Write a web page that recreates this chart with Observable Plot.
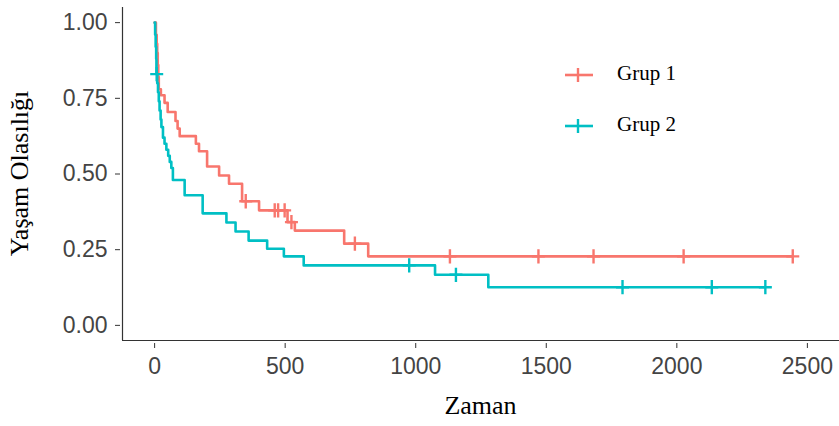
<!DOCTYPE html>
<html>
<head>
<meta charset="utf-8">
<script src="https://cdn.jsdelivr.net/npm/d3@7"></script>
<script src="https://cdn.jsdelivr.net/npm/@observablehq/plot@0.6"></script>
<style>
  html, body { margin: 0; padding: 0; background: #fff; }
  #chart svg { display: block; }
</style>
</head>
<body>
<div id="chart"></div>
<script>
// Kaplan–Meier survival estimates: [time, survival after the event]
const groups = ["Grup 1", "Grup 2"];
const colors = ["#F8766D", "#00BFC4"];

const grup1Steps = [
  [0, 1.0], [5, 0.96], [8, 0.93], [10, 0.90], [12, 0.86], [14, 0.82], [16, 0.78],
  [24, 0.76], [38, 0.735], [50, 0.705], [80, 0.675], [88, 0.65], [96, 0.625],
  [158, 0.60], [170, 0.575], [201, 0.525], [247, 0.495], [285, 0.468],
  [335, 0.41], [400, 0.38], [509, 0.341], [537, 0.313], [726, 0.27], [818, 0.228],
  [2444, 0.228]
];
const grup1Censored = [349, 460, 473, 498, 524, 767, 1131, 1470, 1681, 2026, 2444];

const grup2Steps = [
  [0, 1.0], [2, 0.96], [4, 0.92], [6, 0.88], [7, 0.83], [10, 0.80], [13, 0.77],
  [16, 0.74], [19, 0.71], [23, 0.68], [26, 0.655], [32, 0.62], [38, 0.60],
  [45, 0.58], [52, 0.56], [58, 0.54], [64, 0.52], [70, 0.48], [115, 0.43],
  [184, 0.37], [275, 0.34], [310, 0.31], [360, 0.28], [431, 0.253], [495, 0.228],
  [571, 0.198], [1074, 0.167], [1278, 0.126], [2339, 0.126]
];
const grup2Censored = [8, 975, 1154, 1792, 2134, 2339];

const xTicks = [0, 500, 1000, 1500, 2000, 2500];
const yTicks = [0, 0.25, 0.5, 0.75, 1];
const xDomain = [-123, 2623];
const yDomain = [-0.05, 1.05];

// Survival value at time t (right-continuous step function)
function survivalAt(steps, t) {
  let s = steps[0][1];
  for (const [time, value] of steps) if (time <= t) s = value;
  return s;
}

const curves = [
  ...grup1Steps.map(([time, surv]) => ({group: groups[0], time, surv})),
  ...grup2Steps.map(([time, surv]) => ({group: groups[1], time, surv}))
];
const censors = [
  ...grup1Censored.map(time => ({group: groups[0], time, surv: survivalAt(grup1Steps, time)})),
  ...grup2Censored.map(time => ({group: groups[1], time, surv: survivalAt(grup2Steps, time)}))
];

// Thin "+" censoring symbol
const plusSymbol = {
  draw(context, size) {
    const r = Math.sqrt(size / Math.PI);
    context.moveTo(-r, 0); context.lineTo(r, 0);
    context.moveTo(0, -r * 1.1); context.lineTo(0, r * 1.1);
  }
};

const color = {domain: groups, range: colors};

const plot = Plot.plot({
  width: 839,
  height: 426,
  marginLeft: 122,
  marginRight: 0,
  marginTop: 7,
  marginBottom: 86,
  style: {fontFamily: "'Liberation Sans', Arial, sans-serif", background: "#fff"},
  x: {domain: xDomain, ticks: xTicks, label: null},
  y: {domain: yDomain, ticks: yTicks, label: null},
  color,
  marks: [
    Plot.ruleX([xDomain[0]], {stroke: "#333", strokeWidth: 1.2}),
    Plot.ruleY([yDomain[0]], {stroke: "#333", strokeWidth: 1.2}),
    Plot.axisX({ticks: xTicks, tickSize: 5, tickPadding: 9, dy: 3, fontSize: 23, fill: "#444",
      stroke: "#333", tickFormat: d3.format("d"), label: null}),
    Plot.axisY({ticks: yTicks, tickSize: 5, tickPadding: 8, dx: -2, fontSize: 23, fill: "#444",
      stroke: "#333", tickFormat: d3.format(".2f"), label: null}),
    Plot.line(curves.filter(d => d.group === groups[0]), {x: "time", y: "surv", stroke: "group",
      curve: "step-after", strokeWidth: 2.6}),
    Plot.line(curves.filter(d => d.group === groups[1]), {x: "time", y: "surv", stroke: "group",
      curve: "step-after", strokeWidth: 2.6}),
    Plot.dot(censors, {x: "time", y: "surv", stroke: "group", symbol: plusSymbol, r: 6.5,
      fill: "none", strokeWidth: 2.4})
  ]
});

document.getElementById("chart").appendChild(plot);

const svg = d3.select(plot);

// Axis titles
svg.append("text")
  .attr("x", (122 + 839) / 2).attr("y", 408)
  .attr("text-anchor", "middle").attr("dominant-baseline", "middle")
  .style("font-family", "'Liberation Serif', 'Times New Roman', serif")
  .style("font-size", "26px").attr("fill", "#000")
  .text("Zaman");

svg.append("text")
  .attr("transform", `translate(22, ${(7 + 340) / 2}) rotate(-90)`)
  .attr("text-anchor", "middle").attr("dominant-baseline", "middle")
  .style("font-family", "'Liberation Serif', 'Times New Roman', serif")
  .style("font-size", "26px").attr("fill", "#000")
  .text("Yaşam Olasılığı");

// Legend inside the panel
const legend = svg.append("g").attr("transform", "translate(565, 75)");
groups.forEach((g, i) => {
  const row = legend.append("g").attr("transform", `translate(0, ${i * 51})`);
  row.append("line").attr("x1", 0).attr("x2", 28).attr("y1", 0).attr("y2", 0)
    .attr("stroke", colors[i]).attr("stroke-width", 2.6);
  row.append("line").attr("x1", 13).attr("x2", 13).attr("y1", -7).attr("y2", 7)
    .attr("stroke", colors[i]).attr("stroke-width", 2.4);
  row.append("text").attr("x", 52).attr("y", 0)
    .attr("text-anchor", "start").attr("dominant-baseline", "middle")
    .style("font-family", "'Liberation Serif', 'Times New Roman', serif")
    .style("font-size", "21px").attr("fill", "#000")
    .text(g);
});
</script>
</body>
</html>
